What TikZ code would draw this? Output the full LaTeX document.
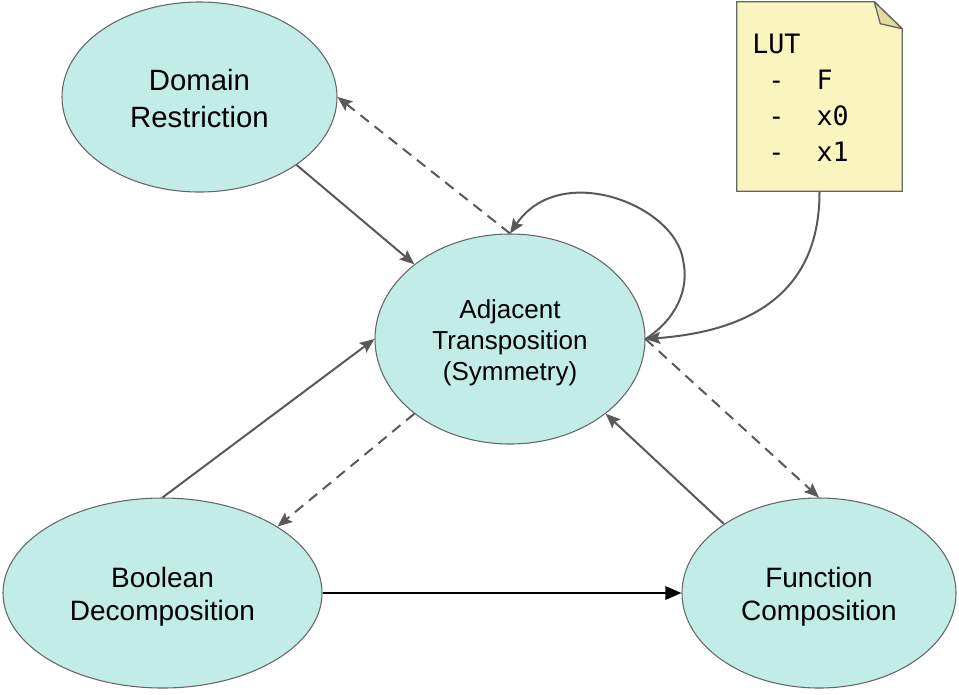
\documentclass[tikz,border=0pt]{standalone}
\usepackage{fontspec}
\setmainfont{Liberation Sans}
\setmonofont{DejaVu Sans Mono}
\usetikzlibrary{shapes.geometric,arrows.meta,backgrounds}
\definecolor{nodefill}{HTML}{C2ECE6}
\definecolor{edgegray}{HTML}{595959}
\definecolor{notefill}{HTML}{FAF4BE}
\definecolor{foldfill}{HTML}{E2DC9A}
\definecolor{bordergray}{HTML}{666666}
\begin{document}
\begin{tikzpicture}[x=0.75pt,y=-0.75pt,
  bubble/.style={ellipse, draw=bordergray, line width=0.8pt, fill=nodefill, inner sep=0pt, align=center},
  link/.style={draw=edgegray, line width=1.5pt, -{Stealth[length=11pt,width=9pt,inset=2pt]}},
  dashlink/.style={link, dash pattern=on 8pt off 5.5pt},
  strong/.style={draw=black, line width=1.5pt, -{Triangle[length=12pt,width=10pt]}},
  notebody/.style={draw=bordergray, line width=1pt, fill=notefill, line join=miter},
  notefold/.style={draw=bordergray, line width=1pt, fill=foldfill, line join=round}]
\useasboundingbox (0,0) rectangle (959,694);

\node[bubble, minimum width=206.25pt, minimum height=142.5pt,
      font=\fontsize{22}{27.75}\selectfont] (dom) at (199.5,97) {\rule{0pt}{17.5pt}Domain\\Restriction};
\node[bubble, minimum width=202.5pt, minimum height=157.5pt,
      font=\fontsize{19.5}{23.25}\selectfont] (adj) at (510,339) {\rule{0pt}{20.5pt}Adjacent\\Transposition\\(Symmetry)};
\node[bubble, minimum width=239.25pt, minimum height=142.5pt,
      font=\fontsize{21}{24.75}\selectfont] (bool) at (162.5,593) {\rule{0pt}{21.5pt}Boolean\\Decomposition};
\node[bubble, minimum width=205.5pt, minimum height=142.5pt,
      font=\fontsize{21}{24.75}\selectfont] (func) at (819,593) {\rule{0pt}{21.5pt}Function\\Composition};

\node[minimum width=123.75pt, minimum height=141.75pt, inner sep=0pt] (lut) at (819.5,96.5) {};
\node[anchor=west, align=left, inner sep=0pt, font=\ttfamily\fontsize{20}{27}\selectfont] (luttext)
  at ([xshift=11.5pt,yshift=-1pt]lut.west)
  {LUT\\\hphantom{0}-\hphantom{00}F\\\hphantom{0}-\hphantom{00}x0\\\hphantom{0}-\hphantom{00}x1};
\begin{scope}[on background layer]
  \draw[notebody] (lut.north west) -- ([xshift=-21pt]lut.north east) -- ([yshift=-20.25pt]lut.north east)
    -- (lut.south east) -- (lut.south west) -- cycle;
  \draw[notefold] ([xshift=-21pt]lut.north east) -- ([xshift=-16.5pt,yshift=-16.5pt]lut.north east)
    -- ([yshift=-20.25pt]lut.north east) -- cycle;
\end{scope}

\draw[link] (dom.-35.3) -- (adj.142.7);
\draw[dashlink] (adj.90) -- (dom.0);
\draw[link] (adj.0) .. controls (675,320) and (690,290) .. (683,260)
  .. controls (675,205) and (560,160) .. (adj.90);
\draw[link] (lut.south) .. controls (820,300) and (740,332) .. (adj.0);
\draw[link] (bool.90) -- (adj.180);
\draw[dashlink] (adj.-142.7) -- (bool.30.9);
\draw[dashlink] (adj.0) -- (func.90);
\draw[link] (func.144.7) -- (adj.-38.1);
\draw[strong] (bool.0) -- (func.180);
\end{tikzpicture}
\end{document}
